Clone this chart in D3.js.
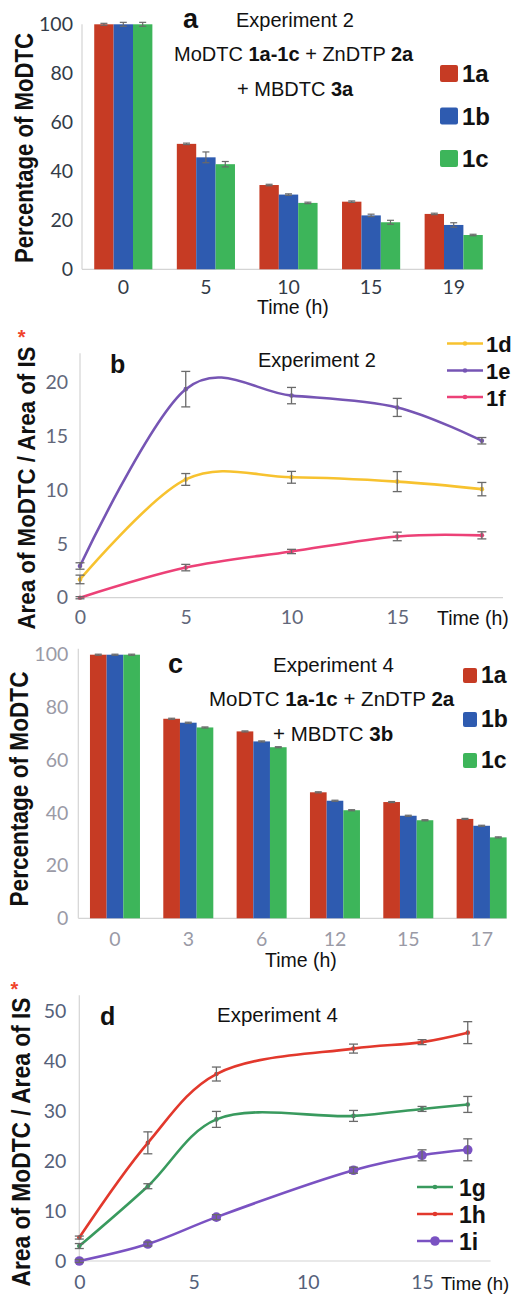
<!DOCTYPE html>
<html><head><meta charset="utf-8">
<script src="https://cdn.jsdelivr.net/npm/d3@7"></script>
<style>
html,body{margin:0;padding:0;background:#fff;}
svg{display:block;}
</style></head>
<body>
<svg id="chart" width="512" height="1294"></svg>
<script>
// ---------- DATA ----------
// Panel a (Experiment 2, bars)
const aTimes = ["0","5","10","15","19"];
const aSeries = ["1a","1b","1c"];
const a_1a = [100, 51.2, 34.4, 27.6, 22.6];
const a_1b = [100, 45.7, 30.5, 22.0, 18.1];
const a_1c = [100, 42.9, 27.1, 19.2, 14.0];
const a_1a_err = [0.4, 0.3, 0.3, 0.3, 0.3];
const a_1b_err = [0.8, 2.2, 0.3, 0.5, 0.9];
const a_1c_err = [0.8, 1.1, 0.3, 0.8, 0.3];
const aYTicks = [0, 20, 40, 60, 80, 100];

// Panel b (Experiment 2, lines)
const bTimes = [0, 5, 10, 15, 19];
const bSeries = ["1d","1e","1f"];
const b_1d = [1.7, 11.0, 11.2, 10.8, 10.1];
const b_1e = [2.95, 19.4, 18.8, 17.7, 14.6];
const b_1f = [0, 2.8, 4.3, 5.7, 5.8];
const b_1d_err = [0.4, 0.55, 0.55, 0.93, 0.62];
const b_1e_err = [0.3, 1.65, 0.76, 0.84, 0.3];
const b_1f_err = [0.1, 0.3, 0.2, 0.4, 0.33];
const bYTicks = [0, 5, 10, 15, 20];
const bXTicks = [0, 5, 10, 15];

// Panel c (Experiment 4, bars)
const cTimes = ["0","3","6","12","15","17"];
const cSeries = ["1a","1b","1c"];
const c_1a = [100, 75.7, 70.9, 47.8, 44.1, 37.7];
const c_1b = [100, 74.2, 67.1, 44.6, 38.9, 35.1];
const c_1c = [100, 72.4, 64.9, 41.0, 37.2, 30.7];
const c_err = [0.2, 0.2, 0.2, 0.2, 0.2, 0.2];
const cYTicks = [0, 20, 40, 60, 80, 100];

// Panel d (Experiment 4, lines)
const dTimes = [0, 3, 6, 12, 15, 17];
const dSeries = ["1g","1h","1i"];
const d_1g = [3.0, 15.0, 28.4, 29.1, 30.5, 31.4];
const d_1h = [4.7, 23.7, 37.5, 42.6, 43.9, 45.8];
const d_1i = [0, 3.4, 8.8, 18.2, 21.2, 22.3];
const d_1g_err = [0.5, 0.5, 1.6, 1.1, 0.5, 1.6];
const d_1h_err = [0.3, 2.2, 1.4, 0.9, 0.5, 2.2];
const d_1i_err = [0.3, 0.4, 0.5, 0.6, 1.1, 2.2];
const dYTicks = [0, 10, 20, 30, 40, 50];
const dXTicks = [0, 5, 10, 15];

// ---------- STYLE ----------
const barColors = {"1a":"#c63b24","1b":"#2e5bb0","1c":"#3db55a"};
const bColors = {"1d":"#f7c22f","1e":"#7655b4","1f":"#ec4177"};
const dColors = {"1g":"#399a5e","1h":"#e2382c","1i":"#7a52c2"};
const SANS = "'Liberation Sans', Arial, sans-serif";
const TICKF = "Lato, 'Open Sans', sans-serif";
const AXIS = "#d4d4d4";
const ERR = "#6a6a6a";

const svg = d3.select("#chart");

function richText(g, x, y, size, parts){
  const t = g.append("text").attr("x", x).attr("y", y)
    .attr("font-family", SANS).attr("font-size", size).attr("fill", "#111");
  parts.forEach(p => t.append("tspan").text(p[0]).attr("font-weight", p[1] ? "bold" : "normal"));
  return t;
}
function yTitle(g, cx, cy, size, len, label){
  return g.append("text")
    .attr("transform", `translate(${cx},${cy}) rotate(-90)`)
    .attr("text-anchor", "middle")
    .attr("font-family", SANS).attr("font-weight", "bold")
    .attr("font-size", size).attr("fill", "#111")
    .attr("textLength", len).attr("lengthAdjust", "spacingAndGlyphs")
    .text(label);
}
function star(g, x, y){
  g.append("text").attr("x", x).attr("y", y).attr("text-anchor", "middle")
   .attr("font-family", SANS).attr("font-weight", "bold").attr("font-size", 20)
   .attr("fill", "#f0432b").text("*");
}
function styleTicks(ax, color, size){
  ax.select(".domain").remove();
  ax.selectAll("text").attr("font-family", TICKF).attr("font-size", size).attr("fill", color);
}

// ---------- BAR PANEL ----------
function barPanel(cfg){
  const g = svg.append("g");
  const y = d3.scaleLinear().domain([0, 100]).range([cfg.y0, cfg.y100]);
  const x = d3.scaleBand().domain(cfg.times).range([cfg.xl, cfg.xr])
              .paddingInner(cfg.pad).paddingOuter(cfg.pad / 2);
  const xs = d3.scaleBand().domain(cfg.series).range([0, x.bandwidth()]);
  g.append("line").attr("x1", cfg.xl).attr("x2", cfg.xl)
    .attr("y1", y(100) - cfg.axTop).attr("y2", y(0)).attr("stroke", AXIS).attr("stroke-width", 1.2);
  g.append("line").attr("x1", cfg.xl).attr("x2", x(cfg.times[cfg.times.length - 1]) + x.bandwidth())
    .attr("y1", y(0)).attr("y2", y(0)).attr("stroke", AXIS).attr("stroke-width", 1.2);
  cfg.series.forEach((s, si) => {
    const vals = cfg.values[si];
    cfg.times.forEach((t, i) => {
      g.append("rect").attr("x", x(t) + xs(s)).attr("y", y(vals[i]))
        .attr("width", xs.bandwidth()).attr("height", y(0) - y(vals[i]))
        .attr("fill", barColors[s]);
    });
  });
  cfg.series.forEach((s, si) => {
    const vals = cfg.values[si], errs = cfg.errs[si];
    cfg.times.forEach((t, i) => {
      const cx = x(t) + xs(s) + xs.bandwidth() / 2;
      const e = errs[i];
      g.append("line").attr("x1", cx).attr("x2", cx).attr("y1", y(vals[i] + e)).attr("y2", y(vals[i] - e))
        .attr("stroke", ERR).attr("stroke-width", 1.2);
      [vals[i] + e, vals[i] - e].forEach(v => g.append("line").attr("x1", cx - 3.5).attr("x2", cx + 3.5)
        .attr("y1", y(v)).attr("y2", y(v)).attr("stroke", ERR).attr("stroke-width", 1.2));
    });
  });
  const ya = g.append("g").attr("transform", `translate(${cfg.xl},0)`)
    .call(d3.axisLeft(y).tickValues(cfg.yTicks).tickSize(0).tickPadding(cfg.yPad));
  styleTicks(ya, cfg.tickColor, cfg.tickSize);
  const xa = g.append("g").attr("transform", `translate(0,${y(0)})`)
    .call(d3.axisBottom(x).tickSize(0).tickPadding(cfg.xPad));
  styleTicks(xa, cfg.tickColor, cfg.tickSize);
  cfg.series.forEach((s, i) => {
    const ly = cfg.legY[i];
    g.append("rect").attr("x", cfg.legX).attr("y", ly).attr("width", cfg.legW).attr("height", cfg.legH)
      .attr("rx", 2).attr("fill", barColors[s]);
    g.append("text").attr("x", cfg.legX + cfg.legW + 4).attr("y", ly + cfg.legH)
      .attr("font-family", SANS).attr("font-weight", "bold").attr("font-size", cfg.legFont).attr("fill", "#111").text(s);
  });
  return {g, x, y};
}

// ---------- LINE PANEL ----------
function linePanel(cfg){
  const g = svg.append("g");
  const x = d3.scaleLinear().domain([0, cfg.xMax]).range([cfg.x0, cfg.x1]);
  const y = d3.scaleLinear().domain([0, cfg.yRef]).range([cfg.y0, cfg.yRefPx]);
  g.append("line").attr("x1", x(0)).attr("x2", x(0)).attr("y1", y(cfg.yTop)).attr("y2", y(0))
    .attr("stroke", AXIS).attr("stroke-width", 1.2);
  g.append("line").attr("x1", x(0)).attr("x2", x(cfg.xMax)).attr("y1", y(0)).attr("y2", y(0))
    .attr("stroke", AXIS).attr("stroke-width", 1.2);
  const ya = g.append("g").attr("transform", `translate(${x(0)},0)`)
    .call(d3.axisLeft(y).tickValues(cfg.yTicks).tickSize(0).tickPadding(cfg.yPad));
  styleTicks(ya, cfg.tickColor, cfg.tickSize);
  const xa = g.append("g").attr("transform", `translate(0,${y(0)})`)
    .call(d3.axisBottom(x).tickValues(cfg.xTicks).tickFormat(d3.format("d")).tickSize(0).tickPadding(cfg.xPad));
  styleTicks(xa, cfg.tickColor, cfg.tickSize);
  const line = d3.line().x((d, i) => x(cfg.times[i])).y(d => y(d)).curve(d3.curveCatmullRom.alpha(cfg.alpha));
  cfg.series.forEach((s, si) => {
    g.append("path").attr("d", line(cfg.values[si])).attr("fill", "none")
      .attr("stroke", cfg.colors[s]).attr("stroke-width", 2.6);
  });
  cfg.series.forEach((s, si) => {
    const vals = cfg.values[si], errs = cfg.errs[si];
    vals.forEach((v, i) => {
      const cx = x(cfg.times[i]);
      g.append("circle").attr("cx", cx).attr("cy", y(v)).attr("r", cfg.dotR[si]).attr("fill", cfg.colors[s]);
      const e = errs[i];
      g.append("line").attr("x1", cx).attr("x2", cx).attr("y1", y(v + e)).attr("y2", y(v - e))
        .attr("stroke", ERR).attr("stroke-width", 1.3);
      [v + e, v - e].forEach(w => g.append("line").attr("x1", cx - 4.5).attr("x2", cx + 4.5)
        .attr("y1", y(w)).attr("y2", y(w)).attr("stroke", ERR).attr("stroke-width", 1.3));
    });
  });
  cfg.series.forEach((s, i) => {
    const ly = cfg.legY[i];
    g.append("line").attr("x1", cfg.legX).attr("x2", cfg.legX + cfg.legW).attr("y1", ly).attr("y2", ly)
      .attr("stroke", cfg.colors[s]).attr("stroke-width", 2.6);
    g.append("circle").attr("cx", cfg.legX + cfg.legW / 2).attr("cy", ly).attr("r", cfg.dotR[i]).attr("fill", cfg.colors[s]);
    g.append("text").attr("x", cfg.legX + cfg.legW + cfg.legGap).attr("y", ly + 8.5)
      .attr("font-family", SANS).attr("font-weight", "bold").attr("font-size", cfg.legFont).attr("fill", "#111").text(s);
  });
  return {g, x, y};
}

// ===== Panel a =====
const pa = barPanel({
  times: aTimes, series: aSeries, values: [a_1a, a_1b, a_1c], errs: [a_1a_err, a_1b_err, a_1c_err],
  y0: 269.3, y100: 24.3, xl: 82, xr: 495, pad: 0.296, axTop: 0, yTicks: aYTicks,
  yPad: 9, xPad: 11, tickColor: "#333b47", tickSize: 19.5,
  legX: 440, legW: 18, legH: 17, legY: [65, 107.5, 150], legFont: 24
});
pa.g.append("text").attr("x", 183).attr("y", 28).attr("font-family", SANS).attr("font-weight", "bold")
  .attr("font-size", 27).attr("fill", "#111").text("a");
richText(pa.g, 236, 27, 20, [["Experiment 2", false]]);
richText(pa.g, 174, 61, 20, [["MoDTC ", false], ["1a-1c", true], [" + ZnDTP ", false], ["2a", true]]);
richText(pa.g, 237, 96, 20, [["+ MBDTC ", false], ["3a", true]]);
richText(pa.g, 257, 314, 19.5, [["Time (h)", false]]);
yTitle(pa.g, 33, 148, 25, 230, "Percentage of MoDTC");

// ===== Panel b =====
const pb = linePanel({
  times: bTimes, series: bSeries, values: [b_1d, b_1e, b_1f], errs: [b_1d_err, b_1e_err, b_1f_err],
  colors: bColors, dotR: [2.3, 2.3, 2.3], alpha: 0,
  xMax: 20, x0: 80, x1: 503, yRef: 20, y0: 597.7, yRefPx: 382.7, yTop: 22.75,
  yTicks: bYTicks, xTicks: bXTicks, yPad: 12, xPad: 12.5, tickColor: "#62677a", tickSize: 19.5,
  legX: 447, legW: 36, legGap: 3, legY: [343.5, 370.5, 397], legFont: 22
});
pb.g.append("text").attr("x", 110).attr("y", 372.5).attr("font-family", SANS).attr("font-weight", "bold")
  .attr("font-size", 25).attr("fill", "#111").text("b");
richText(pb.g, 258, 367, 20, [["Experiment 2", false]]);
richText(pb.g, 437, 625, 19.5, [["Time (h)", false]]);
yTitle(pb.g, 35, 488, 23, 283, "Area of MoDTC / Area of IS");
star(pb.g, 21.7, 344);

// ===== Panel c =====
const pc = barPanel({
  times: cTimes, series: cSeries, values: [c_1a, c_1b, c_1c], errs: [c_err, c_err, c_err],
  y0: 918.3, y100: 654.7, xl: 78.3, xr: 518.3, pad: 0.318, axTop: 6, yTicks: cYTicks,
  yPad: 10, xPad: 14, tickColor: "#9a9aa6", tickSize: 19.5,
  legX: 463, legW: 14, legH: 15, legY: [668, 712, 753], legFont: 23
});
pc.g.append("text").attr("x", 168).attr("y", 673.3).attr("font-family", SANS).attr("font-weight", "bold")
  .attr("font-size", 27).attr("fill", "#111").text("c");
richText(pc.g, 273, 671.7, 20.5, [["Experiment 4", false]]);
richText(pc.g, 209, 706, 20.5, [["MoDTC ", false], ["1a-1c", true], [" + ZnDTP ", false], ["2a", true]]);
richText(pc.g, 273, 741, 20.5, [["+ MBDTC ", false], ["3b", true]]);
richText(pc.g, 265, 966.7, 19.5, [["Time (h)", false]]);
yTitle(pc.g, 28.3, 789, 25, 235, "Percentage of MoDTC");

// ===== Panel d =====
const pd = linePanel({
  times: dTimes, series: dSeries, values: [d_1g, d_1h, d_1i], errs: [d_1g_err, d_1h_err, d_1i_err],
  colors: dColors, dotR: [2.3, 2.3, 4.8], alpha: 0.5,
  xMax: 18, x0: 79.3, x1: 490.6, yRef: 50, y0: 1261, yRefPx: 1011.7, yTop: 53.3,
  yTicks: dYTicks, xTicks: dXTicks, yPad: 13, xPad: 14, tickColor: "#55617a", tickSize: 19.5,
  legX: 417, legW: 36, legGap: 6, legY: [1187, 1214, 1241], legFont: 23
});
pd.g.append("text").attr("x", 100).attr("y", 1025).attr("font-family", SANS).attr("font-weight", "bold")
  .attr("font-size", 25).attr("fill", "#111").text("d");
richText(pd.g, 217, 1021.7, 20.5, [["Experiment 4", false]]);
richText(pd.g, 441, 1290, 18.5, [["Time (h)", false]]);
yTitle(pd.g, 30, 1142, 25, 289, "Area of MoDTC / Area of IS");
star(pd.g, 14.5, 996);
</script>
</body></html>
